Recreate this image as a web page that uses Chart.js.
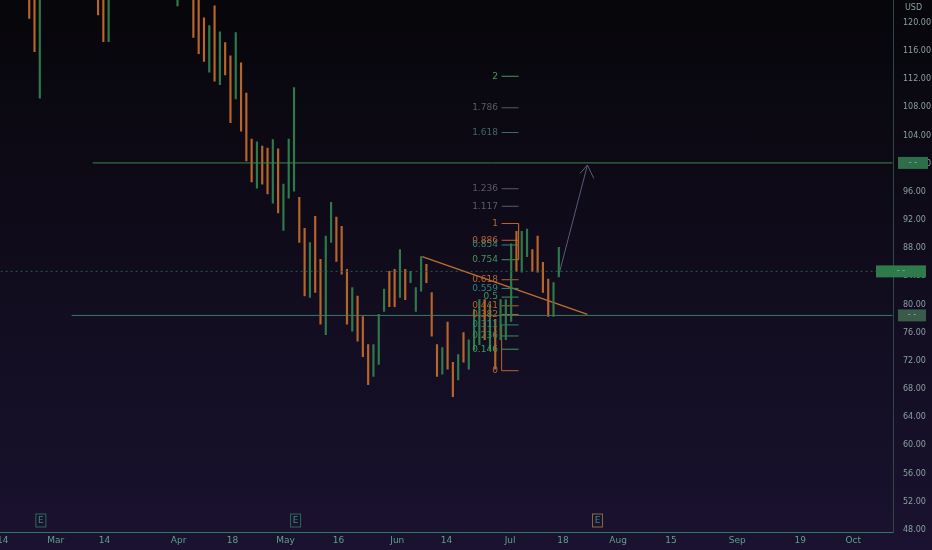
<!DOCTYPE html>
<html><head><meta charset="utf-8">
<script src="https://cdn.jsdelivr.net/npm/chart.js@4/dist/chart.umd.min.js"></script>
<style>html,body{margin:0;padding:0;background:#0a080e;overflow:hidden}#w{position:relative;width:932px;height:550px;overflow:hidden;background:linear-gradient(#07060a,#1a1230)}#c{position:absolute;left:-6px;top:-16px}</style>
</head><body><div id="w"><canvas id="c" width="940" height="566"></canvas></div>
<script>
// bar index, high, low, direction (1 up/green, 0 down/orange)
const barIdx = [-5,-4,-3,8,9,10,23,26,27,28,29,30,31,32,33,34,35,36,37,38,39,40,41,42,43,44,45,46,47,48,49,50,51,52,53,54,55,56,57,58,59,60,61,62,63,64,65,66,67,68,69,70,71,72,73,74,75,76,77,78,79,80,81,82,83,84,85,86,87,88,89,90,91,92,93,94,95];
const highs = [126,126,126,126,126,126,126,126,126,120.7,119.6,122.4,118.7,117.2,115.3,118.6,114.3,110.0,103.5,103.1,102.5,102.2,103.4,102.1,97.1,103.5,110.8,95.2,90.8,88.8,92.5,86.4,89.7,94.5,92.4,91.1,85.0,82.4,81.2,78.3,74.3,74.3,78.6,82.2,84.7,85.0,87.8,85.0,84.7,82.4,86.8,85.7,81.7,74.3,73.9,77.5,71.8,72.9,76.0,75.0,79.3,80.7,80.7,80.0,77.9,80.7,80.7,88.6,90.4,90.4,90.7,87.8,89.7,86.0,83.6,83.1,88.1];
const lows  = [120.6,115.9,109.3,121.1,117.3,117.3,122.4,117.9,115.6,114.5,113.0,111.7,111.2,112.6,105.8,109.2,104.6,100.4,97.4,96.5,97.1,95.7,94.4,93.0,90.5,95.1,96.1,88.8,81.2,81.0,81.7,77.2,75.7,88.8,86.1,84.3,77.2,76.2,74.8,72.6,68.6,69.8,71.5,79.0,79.7,79.7,81.0,80.7,83.1,79.0,81.9,83.1,75.5,69.8,70.1,70.8,66.9,69.3,71.8,70.8,73.6,74.3,75.0,73.6,70.8,75.0,75.0,77.6,84.7,84.6,86.8,84.7,84.6,81.7,78.3,78.3,83.9];
const dirs  = [0,0,1,0,0,1,1,0,0,0,1,0,1,0,0,1,0,0,0,1,0,0,1,0,1,1,1,0,0,1,0,0,1,1,0,0,0,1,0,0,0,1,1,1,0,0,1,0,1,1,1,0,0,0,1,0,0,1,0,1,1,1,0,1,0,1,1,1,0,1,1,0,0,0,0,1,1];
const tickPos = [-10,0,9.2,23.2,33.4,43.4,53.4,64.5,73.8,85.8,95.8,106.2,116.2,128.7,140.6,150.6];
const tickLbl = ['14','Mar','14','Apr','18','May','16','Jun','14','Jul','18','Aug','15','Sep','19','Oct'];
const yTicks = [48,52,56,60,64,68,72,76,80,84,88,92,96,100,104,108,112,116,120];
const fibLevels = [0,0.146,0.236,0.311,0.382,0.441,0.5,0.559,0.618,0.754,0.854,0.886,1,1.117,1.236,1.618,1.786,2];
const fibColors = ['#b8652a','#3f9a5a','#3c8a5a','#2a8a7a','#b8652a','#b8652a','#3f9a5a','#2a8a7a','#b8652a','#3f9a5a','#2a8a7a','#b8652a','#b8652a','#5a5a6a','#5a5a6a','#3a6a6a','#5a5a6a','#3f9a5a'];
const fibLow = 70.6, fibHigh = 91.5;
const resistance = 100.1, support = 78.45, lastPrice = 84.7;
const trendLine = [{x:69.2,y:86.8},{x:100.4,y:78.6}];
const arrowLine = [{x:94.9,y:83.9},{x:100.4,y:99.8}];
const arrowHead = [{x:99.0,y:98.6},{x:100.4,y:99.8},{x:101.6,y:97.9}];
const earnings = [-2.8,45.3,102.3];

const OR='#b8652a', GR='#2f7a4a';
const DX=6, DY=16;
const upBars=[],dnBars=[];
barIdx.forEach((x,i)=>{(dirs[i]?upBars:dnBars).push({x:x,y:[lows[i],highs[i]]});});
const fibVal = l=>fibLow+l*(fibHigh-fibLow);
const fibSets = fibLevels.map((l,i)=>({type:'line',data:[{x:84.2,y:fibVal(l)},{x:87.4,y:fibVal(l)}],borderColor:fibColors[i],borderWidth:1,pointRadius:0}));

const overlay={id:'ov',afterDatasetsDraw(ch){
 const c=ch.ctx,xs=ch.scales.x,ys=ch.scales.y;
 c.save();c.font='9px "DejaVu Sans"';c.textAlign='right';c.textBaseline='middle';
 fibLevels.forEach((l,i)=>{c.fillStyle=fibColors[i];c.fillText(String(l),xs.getPixelForValue(83.5),ys.getPixelForValue(fibVal(l)));});
 c.textAlign='center';
 earnings.forEach((e,i)=>{const px=xs.getPixelForValue(e);c.strokeStyle=i==2?'#8a6a3a':'#2a6a5a';c.lineWidth=1;c.strokeRect(px-5,514+DY,10,13);c.fillStyle='#3a8a7a';c.fillText('E',px,521+DY);});
 const box=(v,x0,w,col)=>{const py=ys.getPixelForValue(v);c.fillStyle=col;c.fillRect(x0+DX,py-6,w,12);c.fillStyle='#8fbfa0';c.font='8px "DejaVu Sans"';c.fillText('- -',x0+DX+w/2,py);};
 box(resistance,898,30,'#2f6e4a');box(lastPrice,876,50,'#2f7a4a');box(support,898,28,'#3a5a4a');
 c.fillStyle='#8aa0a0';c.font='8px "DejaVu Sans"';c.textAlign='left';c.fillText('USD',905+DX,8+DY);
 c.restore();
}};

new Chart(document.getElementById('c'),{
 data:{datasets:[
  {type:'line',data:[{x:-10.4,y:lastPrice},{x:158,y:lastPrice}],borderColor:'#2a5a4a',borderWidth:1,borderDash:[2,3],pointRadius:0},
  {type:'line',data:[{x:7,y:resistance},{x:158,y:resistance}],borderColor:'#3a8a4a',borderWidth:1,pointRadius:0},
  {type:'line',data:[{x:3,y:support},{x:158,y:support}],borderColor:'#3f7a5f',borderWidth:1,pointRadius:0},
  {type:'bar',data:upBars,backgroundColor:GR,barThickness:1.5,grouped:false},
  {type:'bar',data:dnBars,backgroundColor:OR,barThickness:1.5,grouped:false},
  ...fibSets,
  {type:'line',data:[{x:84.2,y:fibVal(0)},{x:84.2,y:fibVal(0.311)}],borderColor:OR,borderWidth:1,pointRadius:0},
  {type:'line',data:[{x:87.4,y:fibVal(1)},{x:87.4,y:fibVal(0.754)}],borderColor:OR,borderWidth:1,pointRadius:0},
  {type:'line',data:trendLine,borderColor:'#c0702e',borderWidth:1.3,pointRadius:0},
  {type:'line',data:arrowLine,borderColor:'#5a5a7a',borderWidth:1,pointRadius:0},
  {type:'line',data:arrowHead,borderColor:'#5a5a7a',borderWidth:1,pointRadius:0}
 ]},
 options:{responsive:false,animation:false,layout:{padding:{top:-24,left:0,right:0,bottom:0}},
  plugins:{legend:{display:false},tooltip:{enabled:false}},
  scales:{
   x:{type:'linear',offset:false,min:-10.4,max:158.1,grid:{display:false,offset:false,drawTicks:false},border:{color:'#2a7a6a'},
     afterBuildTicks:a=>{a.ticks=tickPos.map(v=>({value:v}));},
     ticks:{autoSkip:false,maxRotation:0,color:'#5fa090',font:{size:9,family:'DejaVu Sans'},padding:3,callback:(v,i)=>tickLbl[i]},
     afterFit:a=>{a.height=18;}},
   y:{position:'right',min:47.7,max:123.4,grid:{display:false,drawTicks:false},border:{color:'#2a4a4a'},
     afterBuildTicks:a=>{a.ticks=yTicks.map(v=>({value:v}));},
     ticks:{color:'#8aa0a0',font:{size:8,family:'DejaVu Sans'},padding:10,callback:v=>v.toFixed(2)},
     afterFit:a=>{a.width=41;}}
  }},
 plugins:[overlay]
});
</script></body></html>
